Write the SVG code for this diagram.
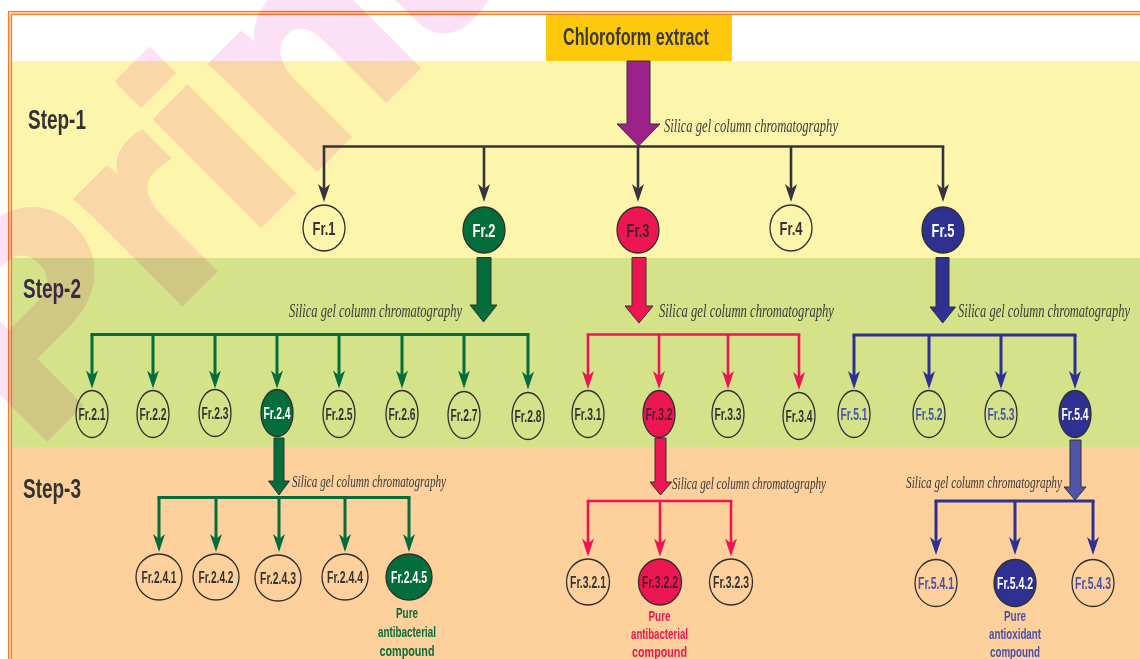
<svg xmlns="http://www.w3.org/2000/svg" width="1140" height="659" viewBox="0 0 1140 659">
<defs>
<style>
.step{font-family:"Liberation Sans Narrow","Liberation Sans",Arial,sans-serif;font-weight:bold;font-size:28px;fill:#333;}
.fr{font-family:"Liberation Sans Narrow","Liberation Sans",Arial,sans-serif;font-weight:bold;text-anchor:middle;fill:#333;}
.f1{font-size:19px;}
.f2{font-size:16px;}
.f3{font-size:16px;}
.lab{font-family:"Liberation Serif","Times New Roman",serif;font-style:italic;fill:#3a3a3a;}
.pure{font-family:"Liberation Sans Narrow","Liberation Sans",Arial,sans-serif;font-weight:bold;font-size:14px;text-anchor:middle;}
.ring{stroke:#2f2f2f;stroke-width:1.3;}
.dk{fill:none;stroke:#34343c;stroke-width:2.6;}
.gr{fill:none;stroke:#046d3c;stroke-width:3;}
.rd{fill:none;stroke:#ec1752;stroke-width:2.6;}
.bl{fill:none;stroke:#2e3192;stroke-width:3;}
.blk{stroke:#333;stroke-width:1;}
</style>
<marker id="ahDk" viewBox="-9 -7 20 14" markerWidth="20" markerHeight="14" refX="0" refY="0" orient="auto" markerUnits="userSpaceOnUse"><path d="M10,0 L-8,-6 L-3,0 L-8,6 Z" fill="#34343c"/></marker>
<marker id="ahGr" viewBox="-9 -7 20 14" markerWidth="20" markerHeight="14" refX="0" refY="0" orient="auto" markerUnits="userSpaceOnUse"><path d="M10,0 L-8,-6 L-3,0 L-8,6 Z" fill="#046d3c"/></marker>
<marker id="ahRd" viewBox="-9 -7 20 14" markerWidth="20" markerHeight="14" refX="0" refY="0" orient="auto" markerUnits="userSpaceOnUse"><path d="M10,0 L-8,-6 L-3,0 L-8,6 Z" fill="#ec1752"/></marker>
<marker id="ahBl" viewBox="-9 -7 20 14" markerWidth="20" markerHeight="14" refX="0" refY="0" orient="auto" markerUnits="userSpaceOnUse"><path d="M10,0 L-8,-6 L-3,0 L-8,6 Z" fill="#2e3192"/></marker>
</defs>

<g id="background">
<rect x="0" y="0" width="1140" height="659" fill="#ffffff"/>
<rect x="12" y="61" width="1128" height="197" fill="#fef5ad"/>
<rect x="12" y="258" width="1128" height="189" fill="#d4e38a"/>
<rect x="12" y="447" width="1128" height="212" fill="#fdd09c"/>
<rect x="10" y="13" width="1200" height="700" fill="none" stroke="#fcd3b0" stroke-width="2"/>
<rect x="8.5" y="11.5" width="1200" height="700" fill="none" stroke="#f47d22" stroke-width="1.2"/>
<rect x="11.5" y="14.5" width="1200" height="700" fill="none" stroke="#f47d22" stroke-width="1.2"/>
</g>

<g id="watermark" style="mix-blend-mode:multiply">
<text transform="translate(34,448) rotate(-45)" font-family="Liberation Sans, Arial, sans-serif" font-weight="bold" font-size="272" textLength="650" lengthAdjust="spacingAndGlyphs" fill="#fbe0f6" stroke="#fbe0f6" stroke-width="10">Print</text>
</g>

<g id="step-labels">
<text class="step" x="28" y="129" textLength="58" lengthAdjust="spacingAndGlyphs">Step-1</text>
<text class="step" x="23" y="298" textLength="58" lengthAdjust="spacingAndGlyphs" style="fill:#3b2947">Step-2</text>
<text class="step" x="23" y="498" textLength="58" lengthAdjust="spacingAndGlyphs">Step-3</text>
</g>

<g id="source">
<rect x="546" y="15" width="186" height="46" fill="#fec90c"/>
<text x="636" y="45" font-family="Liberation Sans Narrow, Liberation Sans, Arial, sans-serif" font-weight="bold" font-size="23" fill="#3a3a3a" text-anchor="middle" textLength="146" lengthAdjust="spacingAndGlyphs">Chloroform extract</text>
</g>

<g id="connectors">
<polygon class="blk" points="627,61 650,61 650,124 660,124 638.5,146 617,124 627,124" fill="#9c2289"/>
<polygon class="blk" points="477,257.5 491,257.5 491,305 497,305 483.5,322 470,305 477,305" fill="#046d3c"/>
<polygon class="blk" points="632,257.5 646,257.5 646,306 653,306 639,323 625,306 632,306" fill="#ec1752"/>
<polygon class="blk" points="936,257.5 949,257.5 949,307 955.5,307 942.7,323 930,307 936,307" fill="#2e3192"/>
<polygon class="blk" points="274,438 284,438 284,481 289.5,481 279,495 268.5,481 274,481" fill="#046d3c"/>
<polygon class="blk" points="655,438 666,438 666,482 671.7,482 660.5,495 650,482 655,482" fill="#ec1752"/>
<polygon class="blk" points="1070,440 1081,440 1081,487 1086,487 1075,500 1064,487 1070,487" fill="#5055a7"/>

<path class="dk" d="M324,146.5 H943" stroke-linecap="square"/>
<path class="dk" d="M324,146.5 V192" marker-end="url(#ahDk)"/>
<path class="dk" d="M484,146.5 V192" marker-end="url(#ahDk)"/>
<path class="dk" d="M638,146.5 V192" marker-end="url(#ahDk)"/>
<path class="dk" d="M791,146.5 V192" marker-end="url(#ahDk)"/>
<path class="dk" d="M943,146.5 V192" marker-end="url(#ahDk)"/>

<path class="gr" d="M92,334.5 H528" stroke-linecap="square"/>
<path class="gr" d="M92,334.5 V378.5" marker-end="url(#ahGr)"/>
<path class="gr" d="M153,334.5 V378.5" marker-end="url(#ahGr)"/>
<path class="gr" d="M215,334.5 V378.5" marker-end="url(#ahGr)"/>
<path class="gr" d="M277,334.5 V378.5" marker-end="url(#ahGr)"/>
<path class="gr" d="M339,334.5 V378.5" marker-end="url(#ahGr)"/>
<path class="gr" d="M402,334.5 V378.5" marker-end="url(#ahGr)"/>
<path class="gr" d="M464,334.5 V378.5" marker-end="url(#ahGr)"/>
<path class="gr" d="M528,334.5 V379.5" marker-end="url(#ahGr)"/>

<path class="rd" d="M588,334.5 H799" stroke-linecap="square"/>
<path class="rd" d="M588,334.5 V379" marker-end="url(#ahRd)"/>
<path class="rd" d="M659,334.5 V379" marker-end="url(#ahRd)"/>
<path class="rd" d="M728,334.5 V379" marker-end="url(#ahRd)"/>
<path class="rd" d="M799,334.5 V380" marker-end="url(#ahRd)"/>

<path class="bl" d="M854,335 H1075" stroke-linecap="square"/>
<path class="bl" d="M854,335 V379" marker-end="url(#ahBl)"/>
<path class="bl" d="M929,335 V379" marker-end="url(#ahBl)"/>
<path class="bl" d="M1001,335 V379" marker-end="url(#ahBl)"/>
<path class="bl" d="M1075,335 V379" marker-end="url(#ahBl)"/>

<path class="gr" d="M159,497.5 H409" stroke-linecap="square"/>
<path class="gr" d="M159,497.5 V542" marker-end="url(#ahGr)"/>
<path class="gr" d="M216,497.5 V542" marker-end="url(#ahGr)"/>
<path class="gr" d="M279,497.5 V542" marker-end="url(#ahGr)"/>
<path class="gr" d="M345,497.5 V542" marker-end="url(#ahGr)"/>
<path class="gr" d="M409,497.5 V542" marker-end="url(#ahGr)"/>

<path class="rd" d="M588,501 H731" stroke-linecap="square"/>
<path class="rd" d="M588,501 V546.5" marker-end="url(#ahRd)"/>
<path class="rd" d="M660,501 V546.5" marker-end="url(#ahRd)"/>
<path class="rd" d="M731,501 V546.5" marker-end="url(#ahRd)"/>

<path class="bl" d="M936,501 H1093" stroke-linecap="square"/>
<path class="bl" d="M936,501 V545" marker-end="url(#ahBl)"/>
<path class="bl" d="M1015,501 V545" marker-end="url(#ahBl)"/>
<path class="bl" d="M1093,501 V545" marker-end="url(#ahBl)"/>

<g class="lab">
<text x="664" y="132" font-size="19" textLength="174" lengthAdjust="spacingAndGlyphs">Silica gel column chromatography</text>
<text x="289" y="317" font-size="19" textLength="173" lengthAdjust="spacingAndGlyphs">Silica gel column chromatography</text>
<text x="659" y="317" font-size="19" textLength="175" lengthAdjust="spacingAndGlyphs">Silica gel column chromatography</text>
<text x="958" y="317" font-size="19" textLength="172" lengthAdjust="spacingAndGlyphs">Silica gel column chromatography</text>
<text x="292" y="487" font-size="17" textLength="154" lengthAdjust="spacingAndGlyphs">Silica gel column chromatography</text>
<text x="672" y="489" font-size="17" textLength="154" lengthAdjust="spacingAndGlyphs">Silica gel column chromatography</text>
<text x="906" y="488" font-size="17" textLength="156" lengthAdjust="spacingAndGlyphs">Silica gel column chromatography</text>
</g>
</g>

<g id="fr1"><ellipse class="ring" cx="324" cy="228" rx="21" ry="23" fill="none"/><text class="fr f1" x="324" y="235" textLength="23" lengthAdjust="spacingAndGlyphs">Fr.1</text></g>
<g id="fr2"><ellipse class="ring" cx="484" cy="230" rx="21" ry="23" fill="#046d3c"/><text class="fr f1" x="484" y="237" textLength="23" lengthAdjust="spacingAndGlyphs" style="fill:#fff">Fr.2</text></g>
<g id="fr3"><ellipse class="ring" cx="638" cy="230" rx="21" ry="23" fill="#ec1752"/><text class="fr f1" x="638" y="237" textLength="23" lengthAdjust="spacingAndGlyphs" style="fill:#4a2030">Fr.3</text></g>
<g id="fr4"><ellipse class="ring" cx="791" cy="228" rx="21" ry="23" fill="none"/><text class="fr f1" x="791" y="235" textLength="23" lengthAdjust="spacingAndGlyphs">Fr.4</text></g>
<g id="fr5"><ellipse class="ring" cx="943" cy="230" rx="21" ry="23" fill="#2e3192"/><text class="fr f1" x="943" y="237" textLength="23" lengthAdjust="spacingAndGlyphs" style="fill:#fff">Fr.5</text></g>

<g id="fr2-1"><ellipse class="ring" cx="92" cy="414" rx="16" ry="23.5" fill="none"/><text class="fr f2" x="92" y="420" textLength="27" lengthAdjust="spacingAndGlyphs">Fr.2.1</text></g>
<g id="fr2-2"><ellipse class="ring" cx="153" cy="414" rx="16" ry="23.5" fill="none"/><text class="fr f2" x="153" y="420" textLength="27" lengthAdjust="spacingAndGlyphs">Fr.2.2</text></g>
<g id="fr2-3"><ellipse class="ring" cx="215" cy="413" rx="16" ry="23.5" fill="none"/><text class="fr f2" x="215" y="419" textLength="27" lengthAdjust="spacingAndGlyphs">Fr.2.3</text></g>
<g id="fr2-4"><ellipse class="ring" cx="277" cy="413" rx="16" ry="23.5" fill="#046d3c"/><text class="fr f2" x="277" y="419" textLength="27" lengthAdjust="spacingAndGlyphs" style="fill:#fff">Fr.2.4</text></g>
<g id="fr2-5"><ellipse class="ring" cx="339" cy="414" rx="16" ry="23.5" fill="none"/><text class="fr f2" x="339" y="420" textLength="27" lengthAdjust="spacingAndGlyphs">Fr.2.5</text></g>
<g id="fr2-6"><ellipse class="ring" cx="402" cy="414" rx="16" ry="23.5" fill="none"/><text class="fr f2" x="402" y="420" textLength="27" lengthAdjust="spacingAndGlyphs">Fr.2.6</text></g>
<g id="fr2-7"><ellipse class="ring" cx="464" cy="415" rx="16" ry="23.5" fill="none"/><text class="fr f2" x="464" y="421" textLength="27" lengthAdjust="spacingAndGlyphs">Fr.2.7</text></g>
<g id="fr2-8"><ellipse class="ring" cx="528" cy="416" rx="16" ry="23.5" fill="none"/><text class="fr f2" x="528" y="422" textLength="27" lengthAdjust="spacingAndGlyphs">Fr.2.8</text></g>

<g id="fr3-1"><ellipse class="ring" cx="588" cy="414" rx="16" ry="23.5" fill="none"/><text class="fr f2" x="588" y="420" textLength="27" lengthAdjust="spacingAndGlyphs">Fr.3.1</text></g>
<g id="fr3-2"><ellipse class="ring" cx="659" cy="414" rx="16" ry="23.5" fill="#ec1752"/><text class="fr f2" x="659" y="420" textLength="27" lengthAdjust="spacingAndGlyphs" style="fill:#4a2030">Fr.3.2</text></g>
<g id="fr3-3"><ellipse class="ring" cx="728" cy="414" rx="16" ry="23.5" fill="none"/><text class="fr f2" x="728" y="420" textLength="27" lengthAdjust="spacingAndGlyphs">Fr.3.3</text></g>
<g id="fr3-4"><ellipse class="ring" cx="799" cy="416" rx="16" ry="23.5" fill="none"/><text class="fr f2" x="799" y="422" textLength="27" lengthAdjust="spacingAndGlyphs">Fr.3.4</text></g>

<g id="fr5-1"><ellipse class="ring" cx="854" cy="414" rx="16" ry="23.5" fill="none"/><text class="fr f2" x="854" y="420" textLength="27" lengthAdjust="spacingAndGlyphs" style="fill:#4b50ad">Fr.5.1</text></g>
<g id="fr5-2"><ellipse class="ring" cx="929" cy="414" rx="16" ry="23.5" fill="none"/><text class="fr f2" x="929" y="420" textLength="27" lengthAdjust="spacingAndGlyphs" style="fill:#4b50ad">Fr.5.2</text></g>
<g id="fr5-3"><ellipse class="ring" cx="1001" cy="414" rx="16" ry="23.5" fill="none"/><text class="fr f2" x="1001" y="420" textLength="27" lengthAdjust="spacingAndGlyphs" style="fill:#4b50ad">Fr.5.3</text></g>
<g id="fr5-4"><ellipse class="ring" cx="1075" cy="414" rx="16" ry="23.5" fill="#2e3192"/><text class="fr f2" x="1075" y="420" textLength="27" lengthAdjust="spacingAndGlyphs" style="fill:#fff">Fr.5.4</text></g>

<g id="fr2-4-1"><circle class="ring" cx="159" cy="577" r="23" fill="none"/><text class="fr f3" x="159" y="583" textLength="35" lengthAdjust="spacingAndGlyphs">Fr.2.4.1</text></g>
<g id="fr2-4-2"><circle class="ring" cx="216" cy="577" r="23" fill="none"/><text class="fr f3" x="216" y="583" textLength="35" lengthAdjust="spacingAndGlyphs">Fr.2.4.2</text></g>
<g id="fr2-4-3"><circle class="ring" cx="278" cy="578" r="23" fill="none"/><text class="fr f3" x="278" y="584" textLength="36" lengthAdjust="spacingAndGlyphs">Fr.2.4.3</text></g>
<g id="fr2-4-4"><circle class="ring" cx="345" cy="577" r="23" fill="none"/><text class="fr f3" x="345" y="583" textLength="36" lengthAdjust="spacingAndGlyphs">Fr.2.4.4</text></g>
<g id="fr2-4-5"><circle class="ring" cx="409" cy="577" r="23" fill="#046d3c"/><text class="fr f3" x="409" y="583" textLength="36" lengthAdjust="spacingAndGlyphs" style="fill:#fff">Fr.2.4.5</text>
<text class="pure" x="407" y="617.5" textLength="22" lengthAdjust="spacingAndGlyphs" style="fill:#0b6b3a">Pure</text>
<text class="pure" x="407" y="636.5" textLength="58" lengthAdjust="spacingAndGlyphs" style="fill:#0b6b3a">antibacterial</text>
<text class="pure" x="407" y="655.5" textLength="55" lengthAdjust="spacingAndGlyphs" style="fill:#0b6b3a">compound</text></g>

<g id="fr3-2-1"><ellipse class="ring" cx="588" cy="582" rx="21.5" ry="23" fill="none"/><text class="fr f3" x="588" y="588" textLength="36" lengthAdjust="spacingAndGlyphs">Fr.3.2.1</text></g>
<g id="fr3-2-2"><ellipse class="ring" cx="660" cy="582" rx="21.5" ry="23" fill="#ec1752"/><text class="fr f3" x="660" y="588" textLength="36" lengthAdjust="spacingAndGlyphs" style="fill:#4a2030">Fr.3.2.2</text>
<text class="pure" x="659.5" y="620.5" textLength="22" lengthAdjust="spacingAndGlyphs" style="fill:#ec1752">Pure</text>
<text class="pure" x="659.5" y="639" textLength="57" lengthAdjust="spacingAndGlyphs" style="fill:#ec1752">antibacterial</text>
<text class="pure" x="659.5" y="656.5" textLength="55" lengthAdjust="spacingAndGlyphs" style="fill:#ec1752">compound</text></g>
<g id="fr3-2-3"><ellipse class="ring" cx="731" cy="582" rx="21.5" ry="23" fill="none"/><text class="fr f3" x="731" y="588" textLength="36" lengthAdjust="spacingAndGlyphs">Fr.3.2.3</text></g>

<g id="fr5-4-1"><ellipse class="ring" cx="936" cy="583" rx="21" ry="23.5" fill="none"/><text class="fr f3" x="936" y="589" textLength="36" lengthAdjust="spacingAndGlyphs" style="fill:#4b50ad">Fr.5.4.1</text></g>
<g id="fr5-4-2"><ellipse class="ring" cx="1015" cy="583" rx="21" ry="23.5" fill="#2e3192"/><text class="fr f3" x="1015" y="589" textLength="36" lengthAdjust="spacingAndGlyphs" style="fill:#fff">Fr.5.4.2</text>
<text class="pure" x="1015" y="620.5" textLength="22" lengthAdjust="spacingAndGlyphs" style="fill:#4b50ad">Pure</text>
<text class="pure" x="1015" y="639" textLength="52" lengthAdjust="spacingAndGlyphs" style="fill:#4b50ad">antioxidant</text>
<text class="pure" x="1015" y="656.5" textLength="50" lengthAdjust="spacingAndGlyphs" style="fill:#4b50ad">compound</text></g>
<g id="fr5-4-3"><ellipse class="ring" cx="1093" cy="583" rx="21" ry="23.5" fill="none"/><text class="fr f3" x="1093" y="589" textLength="36" lengthAdjust="spacingAndGlyphs" style="fill:#4b50ad">Fr.5.4.3</text></g>
</svg>
